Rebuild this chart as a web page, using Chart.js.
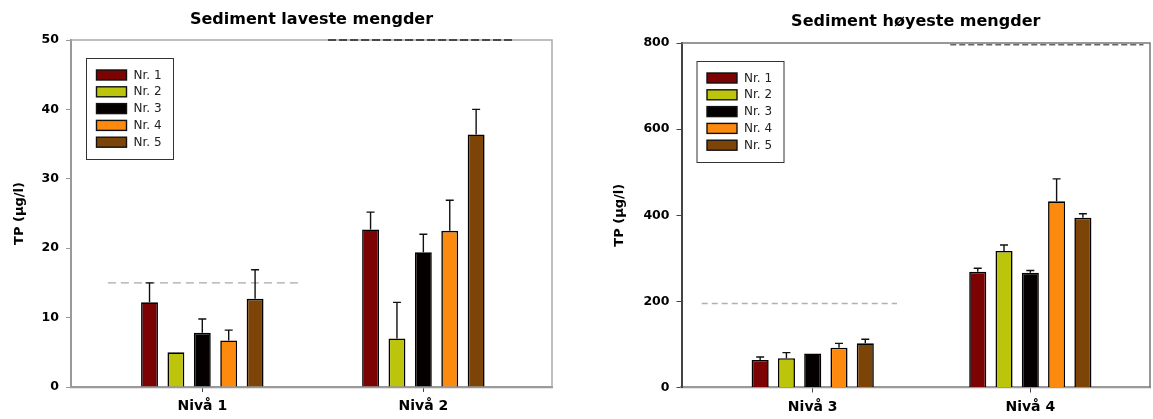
<!DOCTYPE html>
<html>
<head>
<meta charset="utf-8">
<script src="https://cdn.jsdelivr.net/npm/chart.js@4.4.1/dist/chart.umd.min.js"></script>
<style>
  html, body { margin: 0; padding: 0; background: #fff; }
  #wrap { position: relative; width: 1153px; height: 419px; overflow: hidden; }
  .panel { position: absolute; top: 0; height: 419px; }
</style>
</head>
<body>
<div id="wrap">
  <div class="panel" style="left:0;width:576px"><canvas id="chartLow" width="576" height="419"></canvas></div>
  <div class="panel" style="left:576px;width:577px"><canvas id="chartHigh" width="577" height="419"></canvas></div>
</div>
<script>
// series shared by both panels
const seriesNames = ['Nr. 1', 'Nr. 2', 'Nr. 3', 'Nr. 4', 'Nr. 5'];
const seriesColors = ['#7c0304', '#bcc40c', '#050000', '#fb8a0e', '#7d4408'];

// left panel: lowest amounts (one value per level, per series)
const lowLevels = ['Nivå 1', 'Nivå 2'];
const lowMeans = [[12.2, 22.7], [5.0, 7.0], [7.8, 19.4], [6.7, 22.5], [12.7, 36.4]];
const lowErrors = [[2.8, 2.5], [0, 5.2], [2.0, 2.6], [1.5, 4.4], [4.2, 3.6]];
const lowLimits = [15, 50];
const lowTicks = [0, 10, 20, 30, 40, 50];

// right panel: highest amounts
const highLevels = ['Nivå 3', 'Nivå 4'];
const highMeans = [[64, 269], [68, 317], [79, 266.6], [92.5, 432.4], [102.6, 394.4]];
const highErrors = [[7, 8], [13, 14], [0, 5], [10, 52], [9.5, 9]];
const highLimits = [195, 796];
const highTicks = [0, 200, 400, 600, 800];

Chart.defaults.font.family = "'DejaVu Sans', sans-serif";
Chart.defaults.color = '#000';

// error bars on top of each bar
const errorBars = {
  id: 'errorBars',
  afterDatasetsDraw(chart) {
    const ctx = chart.ctx;
    const yScale = chart.scales.y;
    chart.data.datasets.forEach((ds, di) => {
      if (!ds.errors) return;
      const meta = chart.getDatasetMeta(di);
      meta.data.forEach((bar, i) => {
        const e = ds.errors[i];
        if (!e) return;
        const top = yScale.getPixelForValue(ds.data[i].y + e);
        ctx.save();
        ctx.strokeStyle = '#111';
        ctx.lineWidth = 1.4;
        ctx.beginPath();
        ctx.moveTo(bar.x, bar.y);
        ctx.lineTo(bar.x, top);
        ctx.moveTo(bar.x - 4, top);
        ctx.lineTo(bar.x + 4, top);
        ctx.stroke();
        ctx.restore();
      });
    });
  }
};

// top and right frame lines
const frame = {
  id: 'frame',
  beforeDatasetsDraw(chart, args, opts) {
    const { ctx, chartArea: a } = chart;
    ctx.save();
    ctx.strokeStyle = opts.color;
    ctx.lineWidth = opts.width;
    ctx.beginPath();
    ctx.moveTo(a.left, a.top);
    ctx.lineTo(a.right, a.top);
    ctx.lineTo(a.right, a.bottom);
    ctx.stroke();
    ctx.restore();
  }
};

// boxed legend inside the plot
const boxLegend = {
  id: 'boxLegend',
  afterDraw(chart) {
    const { ctx, chartArea: a } = chart;
    const bars = chart.data.datasets.filter(d => d.type === 'bar');
    const x0 = a.left + 15.5, y0 = a.top + 18.5;
    ctx.save();
    ctx.fillStyle = '#fff';
    ctx.fillRect(x0, y0, 87, 101);
    ctx.strokeStyle = '#333';
    ctx.lineWidth = 1;
    ctx.strokeRect(x0, y0, 87, 101);
    ctx.font = "12px 'DejaVu Sans'";
    ctx.textBaseline = 'middle';
    bars.forEach((d, i) => {
      const cy = y0 + 16.5 + i * 16.8;
      ctx.fillStyle = d.backgroundColor;
      ctx.fillRect(x0 + 10, cy - 5, 30, 10);
      ctx.strokeStyle = '#111';
      ctx.lineWidth = 1.4;
      ctx.strokeRect(x0 + 10, cy - 5, 30, 10);
      ctx.fillStyle = '#222';
      ctx.fillText(d.label, x0 + 47, cy + 0.5);
    });
    ctx.restore();
  }
};

function makeChart(id, c) {
  const datasets = seriesNames.map((name, s) => ({
    type: 'bar',
    label: name,
    data: c.means[s].map((v, i) => ({ x: i + 1, y: v })),
    errors: c.errors[s],
    backgroundColor: seriesColors[s],
    borderColor: '#000',
    borderWidth: 1.6,
    categoryPercentage: c.catPct,
    barPercentage: c.barPct,
    order: 2
  }));
  c.limits.forEach((lim, i) => {
    datasets.push({
      type: 'line',
      label: 'limit' + i,
      data: [{ x: i + 1 + c.spans[i][0], y: lim }, { x: i + 1 + c.spans[i][1], y: lim }],
      borderColor: c.limitColors[i],
      borderWidth: 1.4,
      borderDash: c.dashes[i],
      pointRadius: 0,
      clip: false,
      order: 1
    });
  });

  return new Chart(document.getElementById(id), {
    data: { datasets },
    options: {
      responsive: false,
      animation: false,
      layout: { padding: { left: 0, right: c.padRight, top: 0, bottom: 0 } },
      plugins: {
        legend: { display: false },
        tooltip: { enabled: false },
        title: {
          display: true,
          text: c.title,
          fullSize: false,
          font: { size: 16, weight: 'bold' },
          padding: c.titlePad
        },
        frame: { color: c.frameColor, width: 1.5 }
      },
      scales: {
        x: {
          type: 'linear',
          offset: false,
          min: c.xMin,
          max: c.xMax,
          afterBuildTicks: s => { s.ticks = c.levels.map((l, i) => ({ value: i + 1 })); },
          afterFit: s => { s.height = c.xHeight; },
          ticks: {
            callback: v => c.levels[v - 1],
            font: { size: 14, weight: 'bold' },
            padding: 6,
            maxRotation: 0
          },
          grid: { offset: false, drawOnChartArea: false, tickLength: 5, color: '#444' },
          border: { color: '#999', width: 2.2 }
        },
        y: {
          min: 0,
          max: c.yTicks[c.yTicks.length - 1],
          afterBuildTicks: s => { s.ticks = c.yTicks.map(v => ({ value: v })); },
          afterFit: s => { s.width = c.yWidth; },
          ticks: { font: { size: 12.5, weight: 'bold' }, padding: 7 },
          grid: { drawOnChartArea: false, tickLength: 5, color: c.yColor },
          border: { color: c.yColor, width: 2 },
          title: {
            display: true,
            text: 'TP (µg/l)',
            font: { size: 13, weight: 'bold' },
            padding: { top: c.yTitlePad, bottom: 0 }
          }
        }
      }
    },
    plugins: [errorBars, frame, boxLegend]
  });
}

makeChart('chartLow', {
  title: 'Sediment laveste mengder',
  levels: lowLevels, means: lowMeans, errors: lowErrors,
  limits: lowLimits, yTicks: lowTicks,
  spans: [[-0.427, 0.442], [-0.431, 0.415]],
  limitColors: ['#a8a8a8', '#222'],
  dashes: [[8, 5], [8, 3]],
  xMin: 0.406, xMax: 2.582,
  catPct: 0.597, barPct: 0.64,
  yWidth: 71, xHeight: 32, padRight: 24,
  titlePad: { top: 10.5, bottom: 10.3 },
  yTitlePad: 12, yColor: '#999', frameColor: '#aaa'
});

makeChart('chartHigh', {
  title: 'Sediment høyeste mengder',
  levels: highLevels, means: highMeans, errors: highErrors,
  limits: highLimits, yTicks: highTicks,
  spans: [[-0.51, 0.387], [-0.368, 0.52]],
  limitColors: ['#b0b0b0', '#666'],
  dashes: [[6, 4], [6, 3]],
  xMin: 0.397, xMax: 2.55,
  catPct: 0.604, barPct: 0.65,
  yWidth: 105.5, xHeight: 31.5, padRight: 3,
  titlePad: { top: 12.4, bottom: 11.4 },
  yTitlePad: 36, yColor: '#444', frameColor: '#777'
});
</script>
</body>
</html>
